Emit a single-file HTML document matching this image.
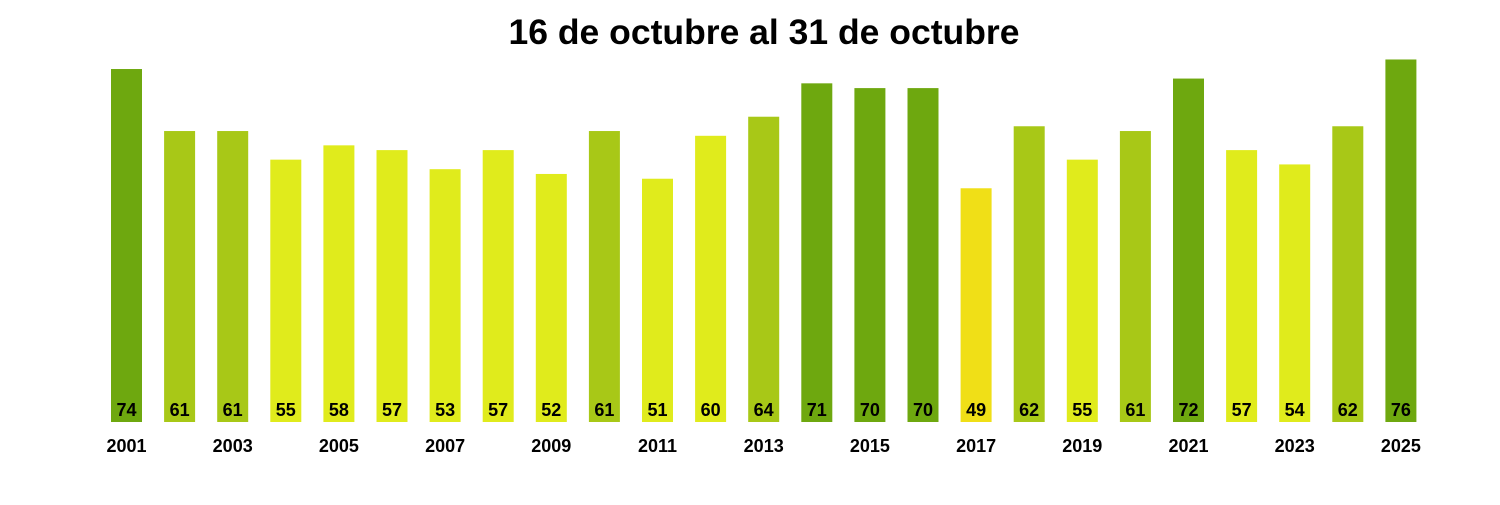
<!DOCTYPE html><html><head><style>body{margin:0;background:#fff;width:1500px;height:500px;overflow:hidden}</style></head><body>
<svg width="1500" height="500" xmlns="http://www.w3.org/2000/svg" font-family="Liberation Sans, sans-serif" font-weight="bold">
<text x="764" y="44" font-size="35.5" text-anchor="middle">16 de octubre al 31 de octubre</text>
<g id="g"></g>
</svg>
<script>
const v=[74,61,61,55,58,57,53,57,52,61,51,60,64,71,70,70,49,62,55,61,72,57,54,62,76];
const g=document.getElementById('g');let s='';
v.forEach((d,i)=>{const cx=126.5+i*53.1,h=d*4.77,y=422-h;
const c=d>=70?'#6ea80f':d>=61?'#a8c817':d>=50?'#e0eb1c':'#f0df17';
s+=`<rect x="${cx-15.5}" y="${y}" width="31" height="${h}" fill="${c}"/>`;
s+=`<text x="${cx}" y="416" font-size="18" text-anchor="middle">${d}</text>`;
if(i%2==0)s+=`<text x="${cx}" y="452" font-size="18" text-anchor="middle">${2001+i}</text>`;});
g.innerHTML=s;
</script></body></html>
